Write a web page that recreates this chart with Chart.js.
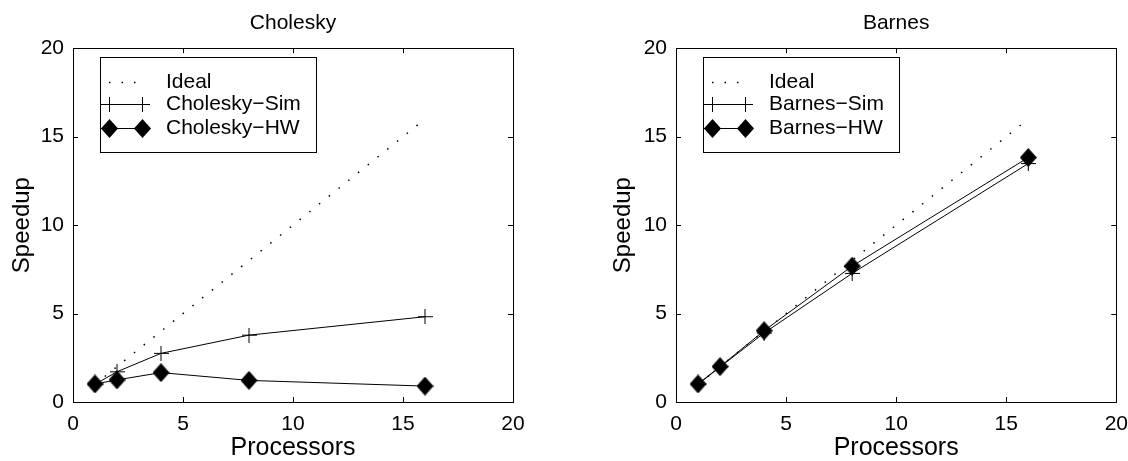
<!DOCTYPE html>
<html>
<head>
<meta charset="utf-8">
<script src="https://cdn.jsdelivr.net/npm/chart.js@4.4.0/dist/chart.umd.min.js"></script>
<style>
html, body { margin: 0; padding: 0; background: #fff; overflow: hidden; }
#wrap { position: relative; width: 1128px; height: 461px; overflow: hidden; }
.pane { position: absolute; top: 0; height: 461px; }
</style>
</head>
<body>
<div id="wrap">
  <div class="pane" style="left:0;width:564px"><canvas id="cholesky"></canvas></div>
  <div class="pane" style="left:564px;width:574px"><canvas id="barnes"></canvas></div>
</div>
<script>
'use strict';

// values
var procs = [1, 2, 4, 8, 16];
var idealSpeedup = [1, 2, 4, 8, 16];
var choleskySim = [1.0, 1.71, 2.75, 3.78, 4.82];
var choleskyHW = [1.02, 1.25, 1.66, 1.22, 0.90];
var barnesSim = [1.0, 1.98, 3.9, 7.27, 13.48];
var barnesHW = [1.02, 2.0, 4.03, 7.68, 13.82];
var axisTicks = [0, 5, 10, 15, 20];

var FONT = "'Liberation Sans', Arial, Helvetica, sans-serif";

function diamondMarker(w, h) {
    var c = document.createElement('canvas');
    c.width = w; c.height = h;
    var g = c.getContext('2d');
    g.fillStyle = '#000';
    g.beginPath();
    g.moveTo(w / 2, 0);
    g.lineTo(w, h / 2);
    g.lineTo(w / 2, h);
    g.lineTo(0, h / 2);
    g.closePath();
    g.fill();
    return c;
}

function plusMarker(s) {
    var c = document.createElement('canvas');
    c.width = s; c.height = s;
    var g = c.getContext('2d');
    g.strokeStyle = '#000';
    g.lineWidth = 1;
    g.beginPath();
    g.moveTo(0, s / 2); g.lineTo(s, s / 2);
    g.moveTo(s / 2, 0); g.lineTo(s / 2, s);
    g.stroke();
    return c;
}

var DIAMOND = diamondMarker(17, 19);
var PLUS = plusMarker(15);

function pairs(xs, ys) {
    return xs.map(function (x, i) { return {x: x, y: ys[i]}; });
}

// box around the plot, inward ticks on all four sides, legend in the upper left
var matlabFrame = {
    id: 'matlabFrame',
    beforeDatasetsDraw: function (chart) {
        var ctx = chart.ctx, a = chart.chartArea;
        var xs = chart.scales.x, ys = chart.scales.y;
        ctx.save();
        ctx.strokeStyle = '#000';
        ctx.lineWidth = 1;
        ctx.strokeRect(Math.round(a.left) + 0.5, Math.round(a.top) + 0.5,
            Math.round(a.right - a.left), Math.round(a.bottom - a.top));
        ctx.beginPath();
        xs.ticks.forEach(function (t) {
            var px = Math.round(xs.getPixelForValue(t.value)) + 0.5;
            ctx.moveTo(px, a.bottom); ctx.lineTo(px, a.bottom - 5);
            ctx.moveTo(px, a.top); ctx.lineTo(px, a.top + 5);
        });
        ys.ticks.forEach(function (t) {
            var py = Math.round(ys.getPixelForValue(t.value)) + 0.5;
            ctx.moveTo(a.left, py); ctx.lineTo(a.left + 5, py);
            ctx.moveTo(a.right, py); ctx.lineTo(a.right - 5, py);
        });
        ctx.stroke();
        ctx.restore();
    },
    afterDraw: function (chart) {
        var ctx = chart.ctx, a = chart.chartArea;
        var sets = chart.data.datasets;
        ctx.save();
        ctx.font = '21px ' + FONT;
        var tw = 0;
        sets.forEach(function (d) { tw = Math.max(tw, ctx.measureText(d.label).width); });
        var bx = Math.round(a.left) + 27, by = Math.round(a.top) + 9;
        var bw = Math.round(66 + tw + 15), bh = 95;
        ctx.fillStyle = '#fff';
        ctx.fillRect(bx, by, bw, bh);
        ctx.strokeStyle = '#000';
        ctx.lineWidth = 1;
        ctx.strokeRect(bx + 0.5, by + 0.5, bw, bh);
        var rows = [25, 47, 71];
        sets.forEach(function (d, i) {
            var y = by + rows[i] + 0.5;
            ctx.save();
            ctx.strokeStyle = '#000';
            ctx.lineWidth = d.borderWidth;
            ctx.setLineDash(d.borderDash || []);
            ctx.beginPath();
            if (d.borderDash && d.borderDash.length) {
                ctx.moveTo(bx + 9, y); ctx.lineTo(bx + 43, y);
            } else {
                ctx.moveTo(bx, y); ctx.lineTo(bx + 50, y);
            }
            ctx.stroke();
            ctx.restore();
            if (d.pointStyle && d.pointRadius > 0) {
                var m = d.pointStyle;
                [bx + 9, bx + 42].forEach(function (mx) {
                    ctx.drawImage(m, mx + 0.5 - m.width / 2, y - m.height / 2);
                });
            }
            ctx.fillStyle = '#000';
            ctx.textBaseline = 'middle';
            ctx.textAlign = 'left';
            ctx.fillText(d.label, bx + 66, y);
        });
        ctx.restore();
    }
};

function makeChart(id, title, simLabel, hwLabel, simData, hwData, padLeft, padRight) {
    return new Chart(document.getElementById(id), {
        type: 'line',
        data: {
            datasets: [
                {
                    label: 'Ideal',
                    data: pairs(procs, idealSpeedup),
                    borderColor: '#000',
                    borderWidth: 1.5,
                    borderDash: [1.5, 11],
                    pointRadius: 0,
                    order: 3
                },
                {
                    label: simLabel,
                    data: pairs(procs, simData),
                    borderColor: '#000',
                    borderWidth: 1,
                    pointStyle: PLUS,
                    pointRadius: 7,
                    order: 2
                },
                {
                    label: hwLabel,
                    data: pairs(procs, hwData),
                    borderColor: '#000',
                    borderWidth: 1,
                    pointStyle: DIAMOND,
                    pointRadius: 8,
                    order: 1
                }
            ]
        },
        options: {
            responsive: true,
            maintainAspectRatio: false,
            animation: false,
            events: [],
            layout: { padding: { left: padLeft, right: padRight, top: 0, bottom: 0 } },
            plugins: {
                legend: { display: false },
                tooltip: { enabled: false },
                title: {
                    display: true,
                    text: title,
                    fullSize: false,
                    color: '#000',
                    font: { family: FONT, size: 21, weight: 'normal' },
                    padding: { top: 11, bottom: 12 }
                }
            },
            scales: {
                x: {
                    type: 'linear',
                    min: 0, max: 20,
                    afterBuildTicks: function (s) { s.ticks = axisTicks.map(function (v) { return {value: v}; }); },
                    afterFit: function (s) { s.height = 59; },
                    grid: { display: false, drawTicks: false },
                    border: { display: false },
                    ticks: { color: '#000', padding: 10, maxRotation: 0, font: { family: FONT, size: 21 } },
                    title: {
                        display: true, text: 'Processors', color: '#000',
                        font: { family: FONT, size: 25, lineHeight: 1 },
                        padding: { top: 0, bottom: 0 }
                    }
                },
                y: {
                    type: 'linear',
                    min: 0, max: 20,
                    afterBuildTicks: function (s) { s.ticks = axisTicks.map(function (v) { return {value: v}; }); },
                    afterFit: function (s) { s.width = 73 + (padLeft ? 2 : 0); },
                    grid: { display: false, drawTicks: false },
                    border: { display: false },
                    ticks: { color: '#000', padding: 9, font: { family: FONT, size: 21 } },
                    title: {
                        display: true, text: 'Speedup', color: '#000',
                        font: { family: FONT, size: 24, lineHeight: 1 },
                        padding: { top: 10, bottom: 0 }
                    }
                }
            }
        },
        plugins: [matlabFrame]
    });
}

makeChart('cholesky', 'Cholesky', 'Cholesky\u2212Sim', 'Cholesky\u2212HW', choleskySim, choleskyHW, 0, 51);
makeChart('barnes', 'Barnes', 'Barnes\u2212Sim', 'Barnes\u2212HW', barnesSim, barnesHW, 37, 0);
</script>
</body>
</html>
